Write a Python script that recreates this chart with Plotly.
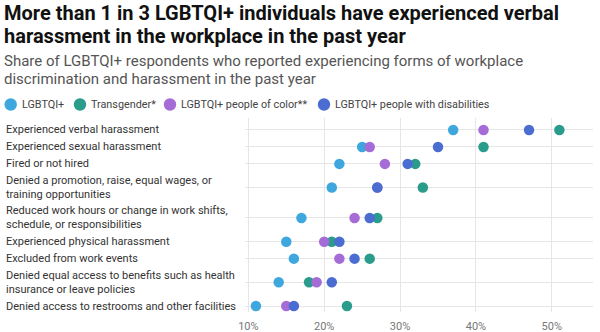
import plotly.graph_objects as go

# Workplace discrimination categories (top to bottom)
categories = [
    "Experienced verbal harassment",
    "Experienced sexual harassment",
    "Fired or not hired",
    "Denied a promotion, raise, equal wages, or<br>training opportunities",
    "Reduced work hours or change in work shifts,<br>schedule, or responsibilities",
    "Experienced physical harassment",
    "Excluded from work events",
    "Denied equal access to benefits such as health<br>insurance or leave policies",
    "Denied access to restrooms and other facilities",
]

# Share of respondents (%) for each group
lgbtqi = [37, 25, 22, 21, 17, 15, 16, 14, 11]
transgender = [51, 41, 32, 33, 27, 21, 26, 18, 23]
people_of_color = [41, 26, 28, 27, 24, 20, 22, 19, 15]
disabilities = [47, 35, 31, 27, 26, 22, 24, 21, 16]

x_ticks = [10, 20, 30, 40, 50]
x_tick_labels = ["10%", "20%", "30%", "40%", "50%"]

series_names = ["LGBTQI+", "Transgender*", "LGBTQI+ people of color**",
                "LGBTQI+ people with disabilities"]
series_values = [lgbtqi, transgender, people_of_color, disabilities]
series_colors = ["#3EA8DE", "#2A9C8C", "#A56BD6", "#4B6CD1"]

title_lines = ["More than 1 in 3 LGBTQI+ individuals have experienced verbal",
               "harassment in the workplace in the past year"]
subtitle_lines = ["Share of LGBTQI+ respondents who reported experiencing forms of workplace",
                  "discrimination and harassment in the past year"]

# Figure geometry (pixels)
W, H = 600, 332
M_L, M_R, M_T, M_B = 245, 7, 118, 20
SINGLE, DOUBLE = 17.0, 30.5
plot_w = W - M_L - M_R
plot_h = H - M_T - M_B

# Row layout: each row's height depends on how many lines its label has
heights = [DOUBLE if "<br>" in c else SINGLE for c in categories]
centers = []
acc = 0.0
for i, h in enumerate(heights):
    acc = h / 2 if i == 0 else acc + (heights[i - 1] + h) / 2
    centers.append(acc)
y_top = centers[0] - 12
y_bottom = centers[-1] + 6


def px_x(px):
    return (px - M_L) / plot_w


def px_y(py):
    return (H - M_B - py) / plot_h


fig = go.Figure()
for name, vals, color in zip(series_names, series_values, series_colors):
    fig.add_trace(go.Scatter(
        x=vals, y=centers, mode="markers", name=name,
        marker=dict(size=10.5, color=color, line=dict(width=0)),
        hovertemplate="%{x}%<extra>" + name + "</extra>",
        showlegend=False,
    ))

# Row labels, left aligned at the figure edge
for c, yc in zip(categories, centers):
    fig.add_annotation(
        x=px_x(4), xref="paper", y=yc, yref="y", text=c,
        xanchor="left", yanchor="middle", align="left", showarrow=False,
        font=dict(family="Roboto", size=11, color="#333333"),
    )

# Key: a dot and a label per group, in one row under the subtitle
legend_dot_x = [10.7, 80, 170, 324]
legend_y = 104.5
for name, color, cx in zip(series_names, series_colors, legend_dot_x):
    fig.add_shape(
        type="circle", xref="paper", yref="paper",
        xsizemode="pixel", ysizemode="pixel",
        xanchor=px_x(cx), yanchor=px_y(legend_y),
        x0=-6.2, x1=6.2, y0=-6.2, y1=6.2,
        fillcolor=color, line=dict(width=0),
    )
    fig.add_annotation(
        x=px_x(cx + 9), xref="paper", y=px_y(legend_y), yref="paper",
        text=name, xanchor="left", yanchor="middle", showarrow=False,
        font=dict(family="Roboto", size=10.8, color="#444444"),
    )

# Title and subtitle, one annotation per line
for line, cy in zip(title_lines, [12.8, 36.4]):
    fig.add_annotation(
        x=px_x(3), xref="paper", y=px_y(cy), yref="paper",
        text="<b>" + line + "</b>", xanchor="left", yanchor="middle",
        showarrow=False, borderpad=0,
        font=dict(family="Roboto", size=20, color="#111111"),
    )
for line, cy in zip(subtitle_lines, [61.5, 79.0]):
    fig.add_annotation(
        x=px_x(3), xref="paper", y=px_y(cy), yref="paper",
        text=line, xanchor="left", yanchor="middle",
        showarrow=False, borderpad=0,
        font=dict(family="Roboto", size=15, color="#555555"),
    )

fig.update_layout(
    width=W, height=H,
    margin=dict(l=M_L, r=M_R, t=M_T, b=M_B, pad=0, autoexpand=False),
    paper_bgcolor="white", plot_bgcolor="white",
    font=dict(family="Roboto", color="#444444"),
    showlegend=False,
    xaxis=dict(
        range=[9.56, 55.43], tickvals=x_ticks, ticktext=x_tick_labels,
        showgrid=True, gridcolor="#e6e6e6", gridwidth=1, zeroline=False,
        showline=False, ticks="", ticklabelstandoff=6,
        tickfont=dict(family="Roboto", size=11, color="#777777"),
        fixedrange=True,
    ),
    yaxis=dict(
        range=[y_bottom, y_top], tickvals=centers, showticklabels=False,
        showgrid=True, gridcolor="#e6e6e6", gridwidth=1, zeroline=False,
        showline=False, ticks="", fixedrange=True,
    ),
)

fig.write_html("out.html")
